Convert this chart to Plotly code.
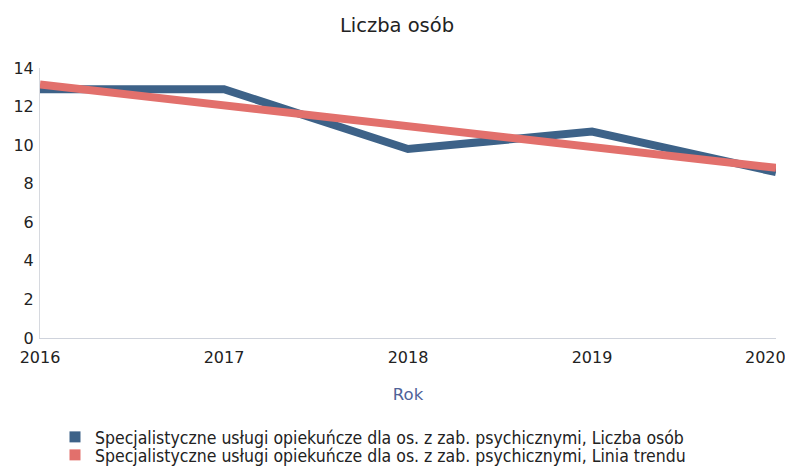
import plotly.graph_objects as go

years = [2016, 2017, 2018, 2019, 2020]
year_labels = ["2016", "2017", "2018", "2019", "2020"]
liczba_osob = [12.9, 12.9, 9.8, 10.7, 8.6]
linia_trendu = [13.14, 12.06, 10.98, 9.90, 8.82]
y_ticks = [0, 2, 4, 6, 8, 10, 12, 14]

name_a = "Specjalistyczne usługi opiekuńcze dla os. z zab. psychicznymi, Liczba osób"
name_b = "Specjalistyczne usługi opiekuńcze dla os. z zab. psychicznymi, Linia trendu"
blue = "#3d6288"
red = "#e2706c"

W, H = 785, 460  # page body has an 8px margin

# the last label is drawn right-aligned (as in the reference) so it stays inside the page
tick_text = year_labels[:-1] + [""]

fig = go.Figure()
fig.add_trace(go.Scatter(x=years, y=liczba_osob, mode="lines", showlegend=False,
                         line=dict(color=blue, width=8), name=name_a))
fig.add_trace(go.Scatter(x=years, y=linia_trendu, mode="lines", showlegend=False,
                         line=dict(color=red, width=8), name=name_b))
# legend entries as squares
fig.add_trace(go.Scatter(x=[None], y=[None], mode="markers", name=name_a, legend="legend",
                         marker=dict(symbol="square", size=11, color=blue)))
fig.add_trace(go.Scatter(x=[None], y=[None], mode="markers", name=name_b, legend="legend2",
                         marker=dict(symbol="square", size=11, color=red)))

fig.add_annotation(x=years[-1], y=0, xref="x", yref="paper", text=year_labels[-1],
                   showarrow=False, xanchor="right", yanchor="top", xshift=12, yshift=-8,
                   font=dict(family="DejaVu Sans", size=16, color="#222222"))

leg_font = dict(family="DejaVu Sans Condensed", size=17.5, color="#222222")
fig.update_layout(
    width=W, height=H,
    paper_bgcolor="white", plot_bgcolor="white",
    margin=dict(l=32, r=17, t=60, b=130, autoexpand=False),
    font=dict(family="DejaVu Sans", color="#222222", size=16),
    title=dict(text="Liczba osób", x=(397 - 8) / W, xanchor="center", xref="container",
               y=1 - 17 / H, yanchor="middle", yref="container",
               font=dict(size=19.5, color="#222222")),
    legend=dict(xref="container", yref="container",
                x=47 / W, xanchor="left", y=1 - 429 / H, yanchor="middle",
                font=leg_font, itemwidth=30, bgcolor="rgba(0,0,0,0)"),
    legend2=dict(xref="container", yref="container",
                 x=47 / W, xanchor="left", y=1 - 447 / H, yanchor="middle",
                 font=leg_font, itemwidth=30, bgcolor="rgba(0,0,0,0)"),
)
fig.update_xaxes(range=[2016, 2020], tickvals=years, ticktext=tick_text,
                 showgrid=False, zeroline=False, showline=True, linecolor="#cfd3dc",
                 linewidth=1, ticks="", ticklabelstandoff=5, tickangle=0,
                 ticklabeloverflow="allow",
                 title=dict(text="Rok", font=dict(size=16.5, color="#4f6298"), standoff=22))
fig.update_yaxes(range=[0, 14], tickvals=y_ticks, showgrid=False, zeroline=False,
                 showline=True, linecolor="#d6d9df", linewidth=1, ticks="",
                 ticklabelstandoff=2)

fig.write_html("out.html")
